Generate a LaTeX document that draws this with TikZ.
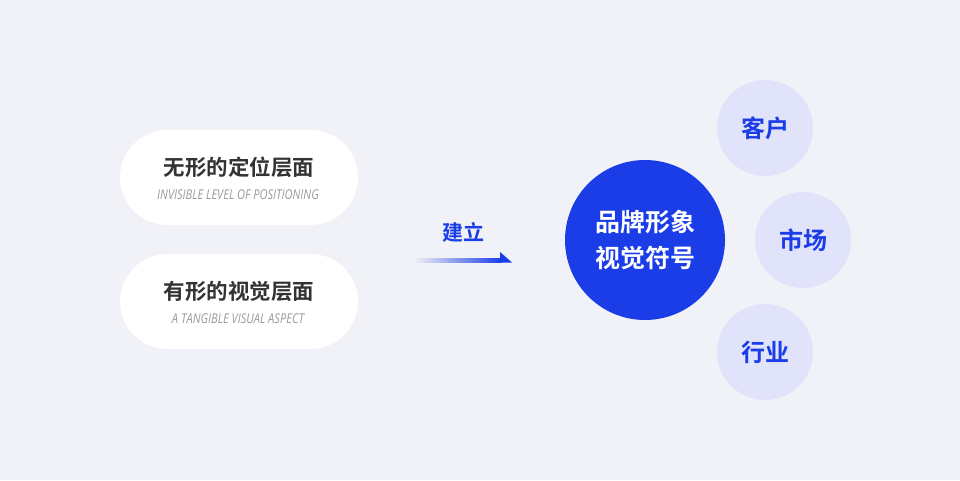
\documentclass[tikz,border=0pt]{standalone}
\usepackage{fontspec}
\setmainfont{Open Sans}
\newfontfamily\cjk{Noto Sans CJK SC}[BoldFont={* Bold}]
\usetikzlibrary{positioning}
\definecolor{bg}{HTML}{F1F2F7}
\definecolor{brand}{HTML}{1A3DE8}
\definecolor{soft}{HTML}{E0E3FA}
\definecolor{ink}{HTML}{333333}
\definecolor{note}{HTML}{9A9A9A}
\newcommand{\narrow}[1]{\scalebox{0.82}[1]{#1}}
\tikzset{
  pill/.style={fill=white, rounded corners=47.5pt, minimum width=238pt, minimum height=95pt},
  title/.style={font=\cjk\bfseries\fontsize{21.5}{24}\selectfont, text=ink},
  sub/.style={font=\itshape\fontsize{13.5}{15}\selectfont, text=note},
  tag/.style={circle, fill=soft, minimum size=96pt, text=brand, font=\cjk\bfseries\fontsize{24}{26}\selectfont},
}
\begin{document}
\begin{tikzpicture}[x=1pt, y=-1pt]
\fill[bg] (0,0) rectangle (960,480);
\useasboundingbox (0,0) rectangle (960,480);

% left pills
\node[pill] (top) at (239,177.5) {};
\node[title] (topt) at (239,167) {无形的定位层面};
\node[sub] (tops) at (238,194.5) {\narrow{INVISIBLE LEVEL OF POSITIONING}};
\node[pill] (bot) at (239,301.5) {};
\node[title] (bott) at (239,291) {有形的视觉层面};
\node[sub] (bots) at (238,318.5) {\narrow{A TANGIBLE VISUAL ASPECT}};

% arrow
\coordinate (from) at (414,260);
\coordinate (to) at (512,260);
\shade[left color=bg, right color=brand] (414,258) rectangle (502,262);
\fill[brand] (500,252) -- (512,262.5) -- (500,262.5) -- cycle;
\node[text=brand, font=\cjk\bfseries\fontsize{21}{24}\selectfont] (build) at (463,232) {建立};

% brand circle
\node[circle, fill=brand, minimum size=160pt, text=white, align=center,
  font=\cjk\bfseries\fontsize{25}{36}\selectfont] (brand) at (645,240) {品牌形象\\视觉符号};

% tags
\node[tag] (client) at (765,128) {客户};
\node[tag] (market) at (803,240) {市场};
\node[tag] (trade) at (765,352) {行业};
\end{tikzpicture}
\end{document}
